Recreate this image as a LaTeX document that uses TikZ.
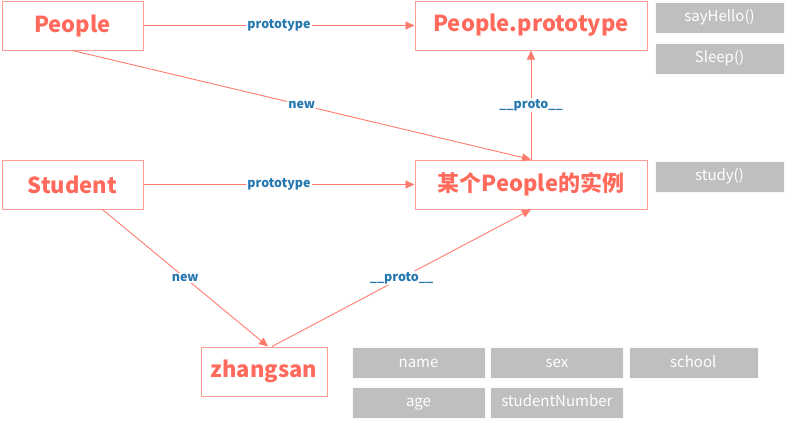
\documentclass[tikz,border=0pt]{standalone}
\usepackage{fontspec}
\setmainfont{Noto Sans CJK SC}
\usetikzlibrary{arrows.meta,positioning}
\definecolor{boxred}{HTML}{FF6A5C}
\definecolor{edgered}{HTML}{FF7B6E}
\definecolor{labelblue}{HTML}{2577B0}
\definecolor{fieldgray}{HTML}{BFBFBF}
\tikzstyle{cls} = [draw=edgered!75, line width=1pt, text=boxred, font=\fontsize{22}{24}\selectfont\bfseries, minimum height=49pt, inner sep=0pt]
\tikzstyle{field} = [fill=fieldgray, draw=white!90!fieldgray, text=white, font=\fontsize{15}{17}\selectfont, minimum height=31pt, inner sep=0pt, text height=11pt, text depth=3pt]
\tikzstyle{arrow} = [edgered, line width=0.9pt, -{Triangle[length=9pt,width=8pt]}]
\tikzstyle{lbl} = [fill=white, text=labelblue, font=\fontsize{12.5}{14}\selectfont\bfseries, inner sep=1pt]

\begin{document}
\begin{tikzpicture}[x=1pt,y=-1pt]
  \useasboundingbox (0,0) rectangle (786,421);
  \node[cls, minimum width=141pt] (people) at (72.5,25.5) {People};
  \node[cls, minimum width=232pt] (proto) at (531,25.5) {People.prototype};
  \node[cls, minimum width=141pt] (student) at (72.5,184.5) {Student};
  \node[cls, minimum width=232pt] (inst) at (531,184.5) {某个People的实例};
  \node[cls, minimum width=126pt] (zs) at (264,371.5) {zhangsan};
  \node[field, minimum width=129pt] (sayhello) at (719.5,17.5) {sayHello()};
  \node[field, minimum width=129pt, below=10pt of sayhello] (sleep) {Sleep()};
  \node[field, minimum width=129pt] (study) at (719.5,176.5) {study()};
  \node[field, minimum width=133pt] (name) at (418.5,363) {name};
  \node[field, minimum width=133pt, right=5pt of name] (sex) {sex};
  \node[field, minimum width=129pt, right=5pt of sex] (school) {school};
  \node[field, minimum width=133pt, below=8pt of name] (age) {age};
  \node[field, minimum width=133pt, below=8pt of sex] (stunum) {studentNumber};
  \draw[arrow] (people.east) -- node[lbl] {prototype} (proto.west);
  \draw[arrow] (student.east) -- node[lbl] {prototype} (inst.west);
  \draw[arrow] (people.south) -- node[lbl] {new} (inst.north);
  \draw[arrow] (inst.north) -- node[lbl] {\_\_proto\_\_} (proto.south);
  \draw[arrow] ([xshift=30pt]student.south) -- node[lbl] {new} ([xshift=4pt]zs.north);
  \draw[arrow] ([xshift=8pt]zs.north) -- node[lbl] {\_\_proto\_\_} (inst.south);
\end{tikzpicture}
\end{document}
